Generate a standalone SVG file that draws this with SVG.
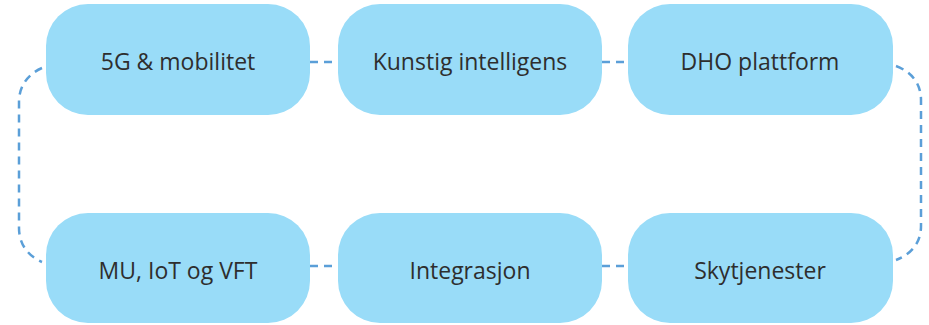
<svg xmlns="http://www.w3.org/2000/svg" width="929" height="325" viewBox="0 0 929 325">
<style>
.n{fill:#99DCF8;}
.t{font-family:"Open Sans","Liberation Sans",sans-serif;font-size:23px;fill:#2e2e2e;text-anchor:middle;}
.c{fill:none;stroke:#5B9FD8;stroke-width:2.5;stroke-dasharray:8 6;}
</style>
<rect width="929" height="325" fill="#fff"/>
<g id="connectors">
<path class="c" d="M310 62H338"/>
<path class="c" d="M602 62H628"/>
<path class="c" d="M310 266H338"/>
<path class="c" d="M602 266H628"/>
<path class="c" d="M42 68C28 74 19 86 19 102V228C19 244 28 256 42 262"/>
<path class="c" d="M896 66C912 72 921 84 921 100V226C921 242 912 254 896 260"/>
</g>
<g id="n1"><rect class="n" x="46" y="4" width="264" height="111" rx="42"/><text class="t" x="178" y="70">5G &amp; mobilitet</text></g>
<g id="n2"><rect class="n" x="338" y="4" width="264" height="111" rx="42"/><text class="t" x="470" y="70">Kunstig intelligens</text></g>
<g id="n3"><rect class="n" x="628" y="4" width="265" height="111" rx="42"/><text class="t" x="760" y="70">DHO plattform</text></g>
<g id="n4"><rect class="n" x="46" y="213" width="264" height="110" rx="42"/><text class="t" x="178" y="279">MU, IoT og VFT</text></g>
<g id="n5"><rect class="n" x="338" y="213" width="264" height="110" rx="42"/><text class="t" x="470" y="279">Integrasjon</text></g>
<g id="n6"><rect class="n" x="628" y="213" width="265" height="110" rx="42"/><text class="t" x="760" y="279">Skytjenester</text></g>
</svg>
